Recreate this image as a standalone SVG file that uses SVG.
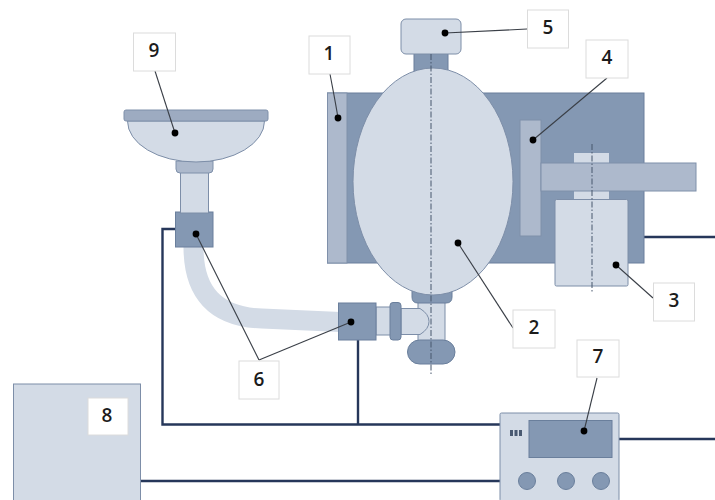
<svg xmlns="http://www.w3.org/2000/svg" width="715" height="500" viewBox="0 0 715 500">
<style>
.dk{fill:#8498b3;stroke:#6a7f9c;stroke-width:1}
.md{fill:#adb9cc;stroke:#7f90aa;stroke-width:1}
.rim{fill:#9dabc1;stroke:#7f90aa;stroke-width:1}
.lt{fill:#d3dbe6;stroke:#7d8ea8;stroke-width:1}
.wire{fill:none;stroke:#26375a;stroke-width:2.4}
.lead{fill:none;stroke:#3a3f47;stroke-width:1.1}
.axis{fill:none;stroke:#47566c;stroke-width:1;stroke-dasharray:6 2 1.5 2}
.lab rect{fill:#fff;stroke:#dcdcdc;stroke-width:1}
.lab text{font-family:"Open Sans",sans-serif;font-size:19px;font-weight:600;fill:#1c1c1c;text-anchor:middle}
.dot{fill:#000}
</style>
<g id="connectors">
<path class="wire" d="M175 229H162.500V424.500H500"/>
<path class="wire" d="M358 340V424"/>
<path class="wire" d="M140 481H500"/>
<path class="wire" d="M628 237H715"/>
<path class="wire" d="M619 439H715"/>
</g>
<g id="tube"><path d="M193.500 247C193.500 292 215 317 262 318.500L340 322" fill="none" stroke="#d3dbe6" stroke-width="20"/></g>
<g id="plate"><rect class="dk" x="327.500" y="93" width="316.500" height="170"/></g>
<g id="node-1"><rect class="md" x="327.500" y="93" width="19.500" height="170"/></g>
<g id="node-4"><rect class="md" x="520" y="120" width="21" height="116"/></g>
<g id="arm">
<rect x="574" y="153" width="35" height="47" fill="#d3dbe6"/>
<rect class="md" x="541" y="163" width="155" height="28"/>
</g>
<g id="node-3"><rect class="lt" x="555" y="199.500" width="73" height="86.500" rx="1.500"/></g>
<g id="neck"><rect class="dk" x="414" y="50" width="34" height="24"/></g>
<g id="lower-fitting">
<rect class="lt" x="418" y="298" width="27" height="45"/>
<path class="lt" d="M401 308.500H420Q429 314 429 321.500Q429 329 420 334.500H401Z"/>
<rect class="lt" x="376" y="307" width="15" height="28"/>
<rect class="dk" x="390" y="302.500" width="11" height="37.500" rx="3"/>
<path class="dk" d="M412 290H452V297Q452 303 446 303H418Q412 303 412 297Z"/>
<rect class="dk" x="407.500" y="340" width="47.500" height="24" rx="12"/>
</g>
<g id="node-2"><ellipse class="lt" cx="433" cy="181.500" rx="80" ry="113.500"/></g>
<g id="node-5"><rect class="lt" x="401" y="19" width="60" height="35" rx="5"/></g>
<g id="node-6a"><rect class="dk" x="175.500" y="212" width="37.500" height="35"/></g>
<g id="node-6b"><rect class="dk" x="338.500" y="303" width="37.500" height="37"/></g>
<g id="node-9">
<rect class="lt" x="180.500" y="172" width="28" height="41"/>
<path class="md" d="M176 161H213V169Q213 173 209 173H180Q176 173 176 169Z"/>
<path class="lt" d="M127.500 121H264.500A68.500 41 0 0 1 127.500 121Z"/>
<rect class="rim" x="124" y="110" width="144" height="11" rx="2"/>
</g>
<g id="node-8"><rect class="lt" x="13.500" y="384" width="127" height="117"/></g>
<g id="node-7">
<rect class="lt" x="500" y="413" width="119" height="88" rx="1.500"/>
<rect class="dk" x="529" y="420.500" width="83" height="37"/>
<rect x="510" y="430" width="3" height="6" fill="#4a5a72"/>
<rect x="514.500" y="430" width="3" height="6" fill="#4a5a72"/>
<rect x="519" y="430" width="3" height="6" fill="#4a5a72"/>
<circle class="dk" cx="527" cy="481" r="8.500"/>
<circle class="dk" cx="566" cy="481" r="8.500"/>
<circle class="dk" cx="601" cy="481" r="8.500"/>
</g>
<g id="axes">
<path class="axis" d="M431 54V375"/>
<path class="axis" d="M592 144V292"/>
</g>
<g id="leaders">
<path class="lead" d="M330 74C333 90 336 105 338 118"/>
<path class="lead" d="M527 29L445 33"/>
<path class="lead" d="M607 78L533 140"/>
<path class="lead" d="M155 71L175 133"/>
<path class="lead" d="M458 243L513 328"/>
<path class="lead" d="M616 265L653 298"/>
<path class="lead" d="M196 234L259 360"/>
<path class="lead" d="M259 360L351 322"/>
<path class="lead" d="M597 378L584 431"/>
<circle class="dot" cx="338" cy="118" r="3.400"/>
<circle class="dot" cx="445" cy="33" r="3.400"/>
<circle class="dot" cx="533" cy="140" r="3.400"/>
<circle class="dot" cx="458" cy="243" r="3.400"/>
<circle class="dot" cx="616" cy="265" r="3.400"/>
<circle class="dot" cx="175" cy="133" r="3.400"/>
<circle class="dot" cx="196" cy="234" r="3.400"/>
<circle class="dot" cx="351" cy="322" r="3.400"/>
<circle class="dot" cx="584" cy="431" r="3.400"/>
</g>
<g id="labels">
<g id="label-1" class="lab"><rect x="309" y="36" width="41" height="38"/><text x="329" y="60">1</text></g>
<g id="label-2" class="lab"><rect x="513" y="310" width="42" height="38"/><text x="534" y="334">2</text></g>
<g id="label-3" class="lab"><rect x="653.500" y="283" width="41" height="38"/><text x="674" y="307">3</text></g>
<g id="label-4" class="lab"><rect x="586" y="40" width="42" height="38"/><text x="607" y="64">4</text></g>
<g id="label-5" class="lab"><rect x="527.500" y="10" width="41" height="38"/><text x="548" y="34">5</text></g>
<g id="label-6" class="lab"><rect x="239" y="361" width="40" height="38"/><text x="259" y="386">6</text></g>
<g id="label-7" class="lab"><rect x="577" y="340" width="42" height="37"/><text x="598" y="363">7</text></g>
<g id="label-8" class="lab"><rect x="88" y="398" width="40" height="37"/><text x="107" y="422">8</text></g>
<g id="label-9" class="lab"><rect x="133.500" y="33" width="42" height="38"/><text x="154" y="57">9</text></g>
</g>
</svg>
